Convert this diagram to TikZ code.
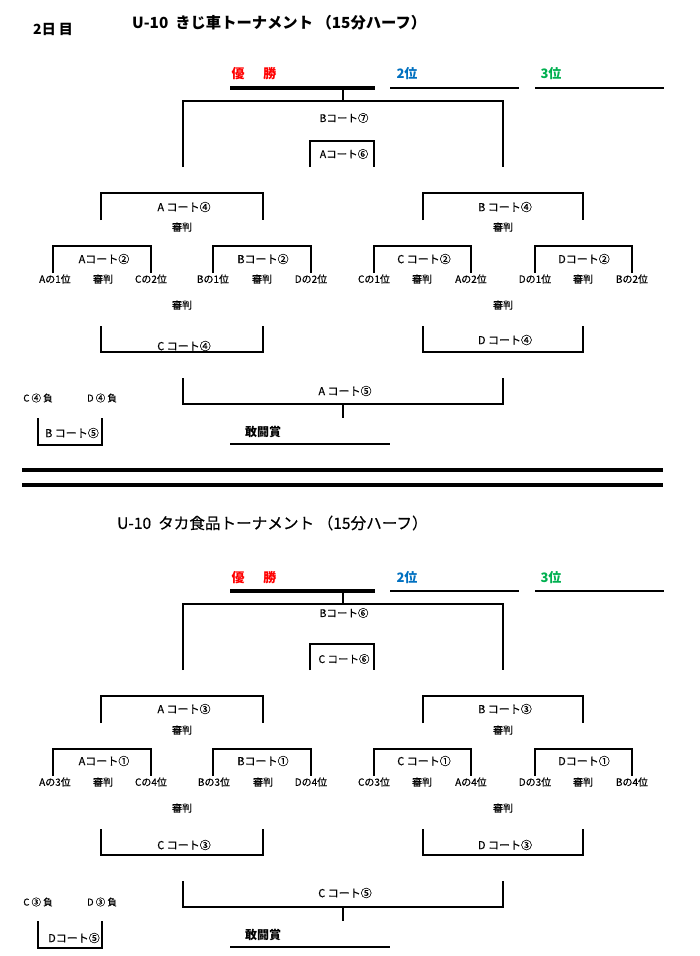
\documentclass[tikz,border=0pt]{standalone}
\usepackage{fontspec}
\setmainfont{Noto Sans CJK JP}[UprightFeatures={FakeBold=0.4}]
\definecolor{winred}{RGB}{255,0,0}
\definecolor{secondblue}{RGB}{0,112,192}
\definecolor{thirdgreen}{RGB}{0,176,80}
\tikzset{bline/.style={line width=2pt}}
\tikzset{winline/.style={line width=3.5pt}}
\tikzset{rankline/.style={line width=1.6pt}}
\tikzset{sepline/.style={line width=3.5pt}}
\tikzset{court/.style={font=\fontsize{11}{13}\selectfont, inner sep=0pt}}
\tikzset{topcourt/.style={font=\fontsize{10.5}{12}\selectfont, inner sep=0pt}}
\tikzset{team/.style={font=\fontsize{10}{12}\selectfont, inner sep=0pt}}
\tikzset{loser/.style={font=\fontsize{9.5}{11}\selectfont, inner sep=0pt}}
\tikzset{rank/.style={font=\fontsize{13}{15}\selectfont\bfseries, inner sep=0pt}}
\tikzset{heading/.style={font=\fontsize{15.6}{18}\selectfont, inner sep=0pt, anchor=west}}
\newcommand{\bracketlines}{
    \draw[winline] (230,88) -- (375,88);
    \draw[rankline] (390,88) -- (519,88);
    \draw[rankline] (535,88) -- (664,88);
    \draw[bline] (343,88) -- (343,101);
    \draw[bline] (183,167) -- (183,101) -- (503,101) -- (503,167);
    \draw[bline] (310,167) -- (310,141) -- (374,141) -- (374,167);
    \draw[bline] (101,220) -- (101,193) -- (263,193) -- (263,220);
    \draw[bline] (423,220) -- (423,193) -- (583,193) -- (583,220);
    \draw[bline] (53,273) -- (53,246) -- (151,246) -- (151,273);
    \draw[bline] (213,273) -- (213,246) -- (311,246) -- (311,273);
    \draw[bline] (374,273) -- (374,246) -- (471,246) -- (471,273);
    \draw[bline] (535,273) -- (535,246) -- (632,246) -- (632,273);
    \draw[bline] (101,326) -- (101,352) -- (263,352) -- (263,326);
    \draw[bline] (423,326) -- (423,352) -- (583,352) -- (583,326);
    \draw[bline] (183,378) -- (183,404) -- (503,404) -- (503,378);
    \draw[bline] (343,404) -- (343,418);
    \draw[bline] (38,418) -- (38,445) -- (102,445) -- (102,418);
    \draw[rankline] (230,444) -- (390,444);
}

\begin{document}
\begin{tikzpicture}[x=1pt,y=-1pt]
    \useasboundingbox (0,0) rectangle (700,956);

    % first tournament
    \bracketlines
    \draw[sepline] (22,470) -- (663,470);
    \draw[sepline] (22,485) -- (663,485);

    \node[rank, font=\fontsize{14}{16}\selectfont\bfseries] (day) at (53,29) {2日\hspace{3pt}目};
    \node[heading, font=\fontsize{15.3}{18}\selectfont\bfseries] (titleone) at (132,23)
        {U-10\ \ きじ車トーナメント\ （15分ハーフ）};
    \node[rank, text=winred] (winone) at (254,74) {優\hspace{19pt}勝};
    \node[rank, text=secondblue] (secondone) at (407,74) {2位};
    \node[rank, text=thirdgreen] (thirdone) at (551,74) {3位};

    \node[topcourt] (finalone) at (344,118) {Bコート⑦};
    \node[topcourt] (bronzeone) at (344,154) {Aコート⑥};

    \node[court] (semiaone) at (184,207) {A コート④};
    \node[team] (refsaone) at (182,227) {審判};
    \node[court] (semibone) at (505,207) {B コート④};
    \node[team] (refsbone) at (503,227) {審判};

    \node[court] (qaone) at (104,259) {Aコート②};
    \node[court] (qbone) at (263,259) {Bコート②};
    \node[court] (qcone) at (424,259) {C コート②};
    \node[court] (qdone) at (584,259) {Dコート②};

    \node[team] (aoneone) at (55,279) {Aの1位};
    \node[team] (refqaone) at (103,279) {審判};
    \node[team] (ctwoone) at (151,279) {Cの2位};
    \node[team] (boneone) at (213,279) {Bの1位};
    \node[team] (refqbone) at (262,279) {審判};
    \node[team] (dtwoone) at (311,279) {Dの2位};
    \node[team] (coneone) at (374,279) {Cの1位};
    \node[team] (refqcone) at (422,279) {審判};
    \node[team] (atwoone) at (471,279) {Aの2位};
    \node[team] (doneone) at (535,279) {Dの1位};
    \node[team] (refqdone) at (583,279) {審判};
    \node[team] (btwoone) at (632,279) {Bの2位};

    \node[team] (refpaone) at (182,305) {審判};
    \node[team] (refpbone) at (503,305) {審判};
    \node[court] (placeaone) at (184,346) {C コート④};
    \node[court] (placebone) at (505,340) {D コート④};

    \node[court] (fightone) at (345,391) {A コート⑤};
    \node[loser] (closeone) at (38,398) {C ④ 負};
    \node[loser] (dloseone) at (102,398) {D ④ 負};
    \node[court] (lastone) at (72,433) {B コート⑤};
    \node[rank, font=\fontsize{12}{14}\selectfont\bfseries] (prizeone) at (263,432) {敢闘賞};

    % second tournament
    \begin{scope}[yshift=-503pt]
        \bracketlines
    \end{scope}

    \node[heading] (titletwo) at (117,523) {U-10\ \ タカ食品トーナメント\ （15分ハーフ）};
    \node[rank, text=winred] (wintwo) at (254,578) {優\hspace{19pt}勝};
    \node[rank, text=secondblue] (secondtwo) at (407,578) {2位};
    \node[rank, text=thirdgreen] (thirdtwo) at (551,578) {3位};

    \node[topcourt] (finaltwo) at (344,613) {Bコート⑥};
    \node[topcourt] (bronzetwo) at (344,659) {C コート⑥};

    \node[court] (semiatwo) at (184,709) {A コート③};
    \node[team] (refsatwo) at (182,730) {審判};
    \node[court] (semibtwo) at (505,709) {B コート③};
    \node[team] (refsbtwo) at (503,730) {審判};

    \node[court] (qatwo) at (104,761) {Aコート①};
    \node[court] (qbtwo) at (263,761) {Bコート①};
    \node[court] (qctwo) at (424,761) {C コート①};
    \node[court] (qdtwo) at (584,761) {Dコート①};

    \node[team] (athreetwo) at (55,782) {Aの3位};
    \node[team] (refqatwo) at (103,782) {審判};
    \node[team] (cfourtwo) at (151,782) {Cの4位};
    \node[team] (bthreetwo) at (214,782) {Bの3位};
    \node[team] (refqbtwo) at (263,782) {審判};
    \node[team] (dfourtwo) at (311,782) {Dの4位};
    \node[team] (cthreetwo) at (374,782) {Cの3位};
    \node[team] (refqctwo) at (422,782) {審判};
    \node[team] (afourtwo) at (471,782) {Aの4位};
    \node[team] (dthreetwo) at (535,782) {Dの3位};
    \node[team] (refqdtwo) at (583,782) {審判};
    \node[team] (bfourtwo) at (632,782) {Bの4位};

    \node[team] (refpatwo) at (182,808) {審判};
    \node[team] (refpbtwo) at (503,808) {審判};
    \node[court] (placeatwo) at (184,845) {C コート③};
    \node[court] (placebtwo) at (505,845) {D コート③};

    \node[court] (fighttwo) at (345,893) {C コート⑤};
    \node[loser] (closetwo) at (38,902) {C ③ 負};
    \node[loser] (dlosetwo) at (102,902) {D ③ 負};
    \node[court] (lasttwo) at (74,938) {Dコート⑤};
    \node[rank, font=\fontsize{12}{14}\selectfont\bfseries] (prizetwo) at (263,935) {敢闘賞};
\end{tikzpicture}
\end{document}
